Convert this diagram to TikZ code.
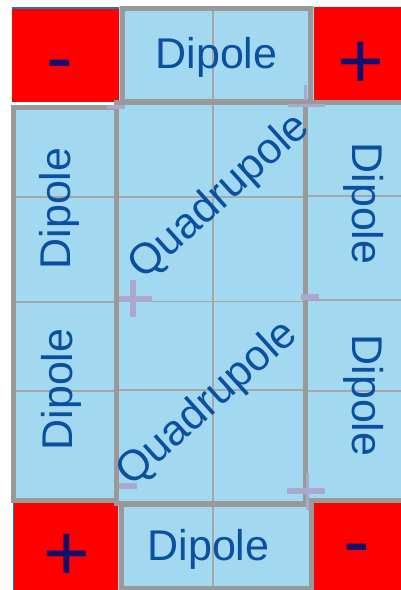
\documentclass[tikz,border=0pt]{standalone}
\usepackage{fontspec}
\setmainfont{Liberation Sans}
\definecolor{cellblue}{HTML}{A3D9F0}
\definecolor{bordergray}{HTML}{999999}
\definecolor{gridgray}{HTML}{A6A6A6}
\definecolor{txtblue}{HTML}{0A4FA0}
\definecolor{signnavy}{HTML}{10106E}
\definecolor{marklav}{HTML}{A9A9CE}
\definecolor{edgeteal}{HTML}{1A80A8}
\begin{document}
\begin{tikzpicture}[x=1pt,y=-1pt,
  redsq/.style={fill=red},
  cellfill/.style={fill=cellblue},
  frame/.style={draw=bordergray, line width=5pt},
  gridline/.style={draw=gridgray, line width=1.8pt},
  lavmark/.style={fill=marklav},
  lbl/.style={text=txtblue, font=\fontsize{43}{50}\selectfont, inner sep=0pt},
  sign/.style={text=signnavy, font=\fontsize{80}{90}\selectfont, inner sep=0pt, anchor=base}]
\clip (0,0) rectangle (401,590);
\fill[white] (0,0) rectangle (401,590);
% red corner squares
\fill[redsq] (12,9) rectangle (119,102);
\fill[redsq] (314,7) rectangle (401,100);
\fill[redsq] (14,503) rectangle (118,590);
\fill[redsq] (314,503) rectangle (401,590);
\draw[edgeteal, line width=1.5pt] (12,8) -- (119,8);
\draw[edgeteal, line width=1.5pt] (13.5,503) -- (13.5,590);
% blue cells
\fill[cellfill] (119,6) rectangle (314,104);
\fill[cellfill] (11,105) rectangle (119,502);
\fill[cellfill] (114,100) rectangle (308,506);
\fill[cellfill] (302,100) rectangle (401,503);
\fill[cellfill] (118,502) rectangle (314,590);
% thin grid lines
\draw[gridline] (213,8) -- (213,101);
\draw[gridline] (13.5,197) -- (116.5,197);
\draw[gridline] (13.5,302) -- (116.5,302);
\draw[gridline] (13.5,391) -- (116.5,391);
\draw[gridline] (213,102) -- (213,503);
\draw[gridline] (116.5,197) -- (305,197);
\draw[gridline] (116.5,301.5) -- (305,301.5);
\draw[gridline] (116.5,390) -- (305,390);
\draw[gridline] (305,196) -- (401,196);
\draw[gridline] (305,300) -- (401,300);
\draw[gridline] (305,391) -- (401,391);
\draw[gridline] (213,504.5) -- (213,588);
% thick frames
\draw[frame] (122.5,8.5) rectangle (310.5,101.5);
\draw[frame] (13.5,107.5) rectangle (116.5,500);
\draw[frame] (116.5,102) rectangle (305,503);
\draw[frame] (305,102) rectangle (410,500.5);
\draw[frame] (121,504.5) rectangle (311.5,588);
% faint lavender marks
\fill[lavmark] (107,105) rectangle (125,109);
\fill[lavmark] (304,85) rectangle (307,100);
\fill[lavmark] (288,104) rectangle (325,107);
\fill[lavmark] (130,280) rectangle (136,317);
\fill[lavmark] (119,296) rectangle (152,302);
\fill[lavmark] (301,294) rectangle (319,300);
\fill[lavmark] (119,483) rectangle (137,489);
\fill[lavmark] (287,488) rectangle (325,494);
\fill[lavmark] (306,473) rectangle (309,510);
% labels
\node[lbl, anchor=base] (dtop) at (216.5,68) {Dipole};
\node[lbl, anchor=base] (dbot) at (208.5,560) {Dipole};
\node[lbl, anchor=base, rotate=90] (dleftA) at (70,208.5) {Dipole};
\node[lbl, anchor=base, rotate=90] (dleftB) at (72,389.5) {Dipole};
\node[lbl, anchor=base, rotate=-90] (drightA) at (352,203.5) {Dipole};
\node[lbl, anchor=base, rotate=-90] (drightB) at (352,395.5) {Dipole};
\node[lbl, rotate=42] (quadA) at (220,197) {Quadrupole};
\node[lbl, rotate=42] (quadB) at (208,404) {Quadrupole};
% signs
\node[sign] (minusTL) at (59.5,84) {-};
\node[sign] (plusTR) at (361,88) {+};
\node[sign] (plusBL) at (67,580) {+};
\node[sign] (minusBR) at (356.5,568) {-};
\end{tikzpicture}
\end{document}
